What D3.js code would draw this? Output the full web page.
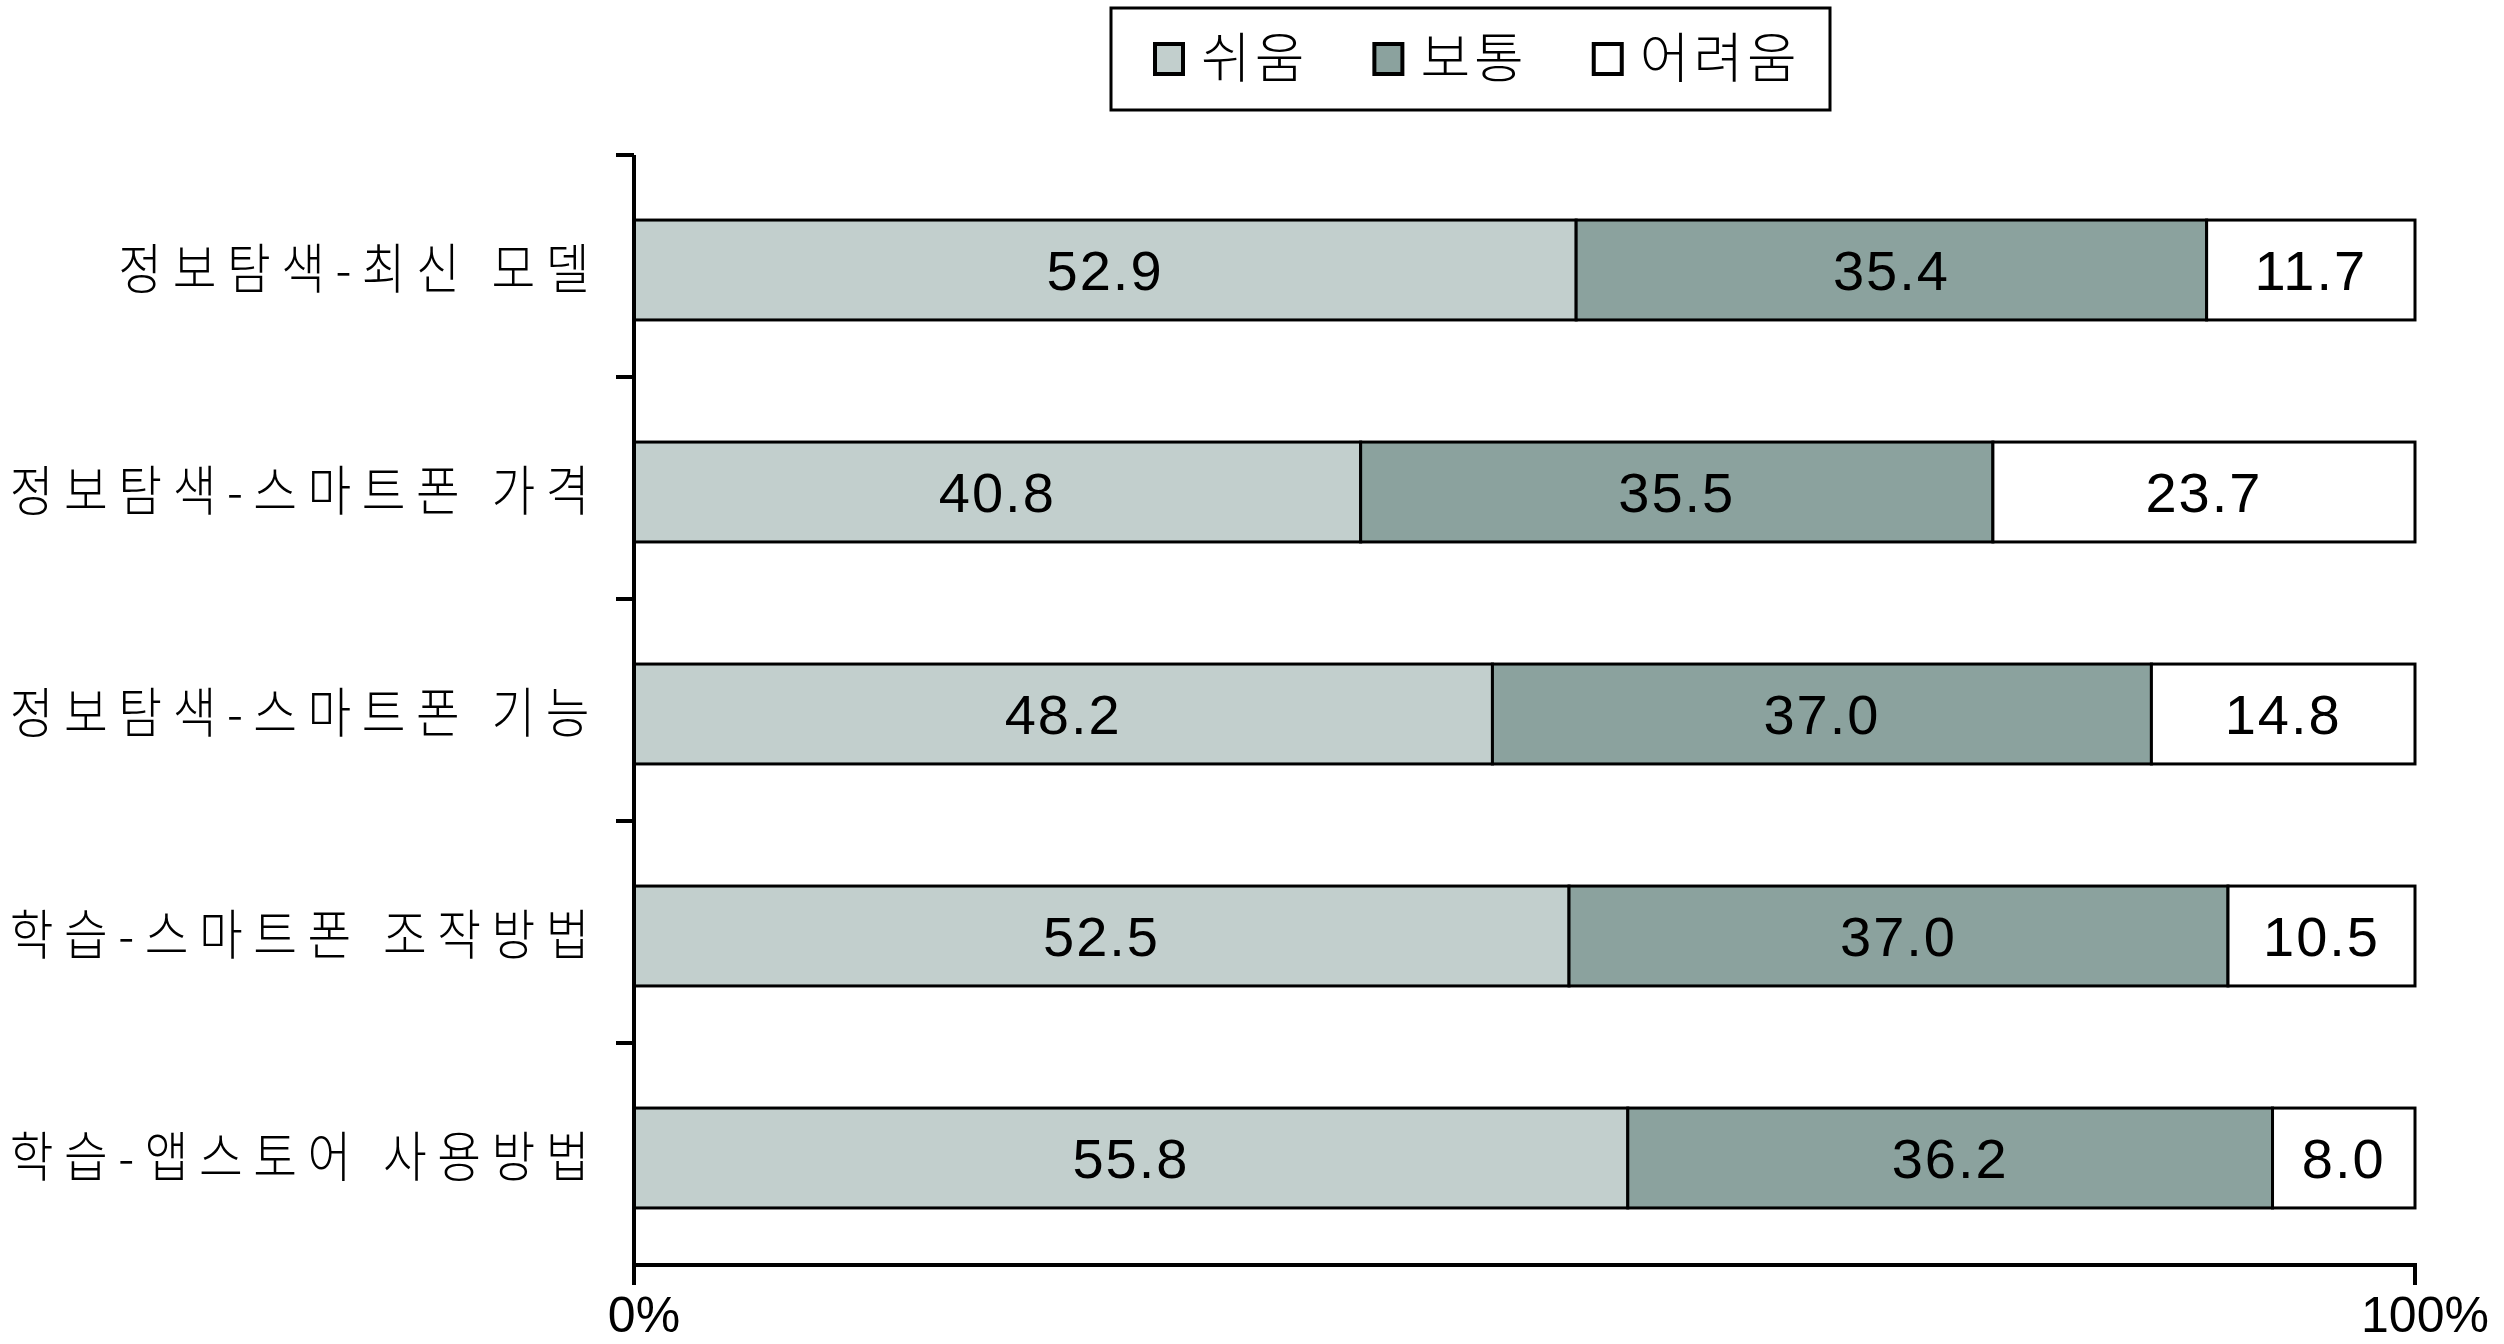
<!DOCTYPE html>
<html>
<head>
<meta charset="utf-8">
<script src="https://cdn.jsdelivr.net/npm/d3@7"></script>
<style>
  body { margin: 0; background: #fff; }
  svg { display: block; }
  .kr { font-family: "Noto Sans CJK KR", "Noto Sans", sans-serif; font-weight: 300; }
  .num { font-family: "Liberation Sans", Arial, sans-serif; }
</style>
</head>
<body>
<svg width="2504" height="1344"></svg>
<script>
const categories = [
  "정보탐색-최신 모델",
  "정보탐색-스마트폰 가격",
  "정보탐색-스마트폰 기능",
  "학습-스마트폰 조작방법",
  "학습-앱스토어 사용방법"
];
const seriesNames = ["쉬움", "보통", "어려움"];
const easy = [52.9, 40.8, 48.2, 52.5, 55.8];
const normal = [35.4, 35.5, 37.0, 37.0, 36.2];
const hard = [11.7, 23.7, 14.8, 10.5, 8.0];
const xTicks = [0, 100];
const colors = ["#c2cfcd", "#8ba29e", "#ffffff"];

const svg = d3.select("svg");

const x = d3.scaleLinear().domain([0, 100]).range([634, 2415]);
const y = d3.scaleBand().domain(categories).range([155, 1265])
  .paddingInner(0.55).paddingOuter(0.275);

const rows = categories.map((c, i) => ({ cat: c, easy: easy[i], normal: normal[i], hard: hard[i] }));
const stack = d3.stack().keys(["easy", "normal", "hard"])(rows);

const color = d3.scaleOrdinal().domain(["easy", "normal", "hard"]).range(colors);

// bars
const layer = svg.append("g")
  .selectAll("g")
  .data(stack)
  .enter().append("g")
  .attr("fill", d => color(d.key));

layer.selectAll("rect")
  .data(d => d)
  .enter().append("rect")
  .attr("x", d => x(d[0]))
  .attr("y", d => y(d.data.cat) + 4)
  .attr("width", d => x(d[1]) - x(d[0]))
  .attr("height", y.bandwidth())
  .attr("stroke", "#000")
  .attr("stroke-width", 3);

// value labels
layer.selectAll("text")
  .data(d => d)
  .enter().append("text")
  .attr("class", "num")
  .attr("x", d => (x(d[0]) + x(d[1])) / 2)
  .attr("y", d => y(d.data.cat) + 4 + y.bandwidth() / 2)
  .attr("dy", "0.36em")
  .attr("text-anchor", "middle")
  .attr("font-size", 56)
  .attr("letter-spacing", 2)
  .attr("fill", "#000")
  .text(d => (d[1] - d[0]).toFixed(1));

// axes
const axes = svg.append("g").attr("stroke", "#000").attr("stroke-width", 4);
axes.append("line")
  .attr("x1", x(0)).attr("x2", x(0))
  .attr("y1", 155).attr("y2", 1285);
axes.append("line")
  .attr("x1", x(0) - 2).attr("x2", x(100) + 2)
  .attr("y1", 1265).attr("y2", 1265);

const bounds = d3.range(categories.length).map(i => y.range()[0] + i * y.step());
axes.selectAll(".ytick")
  .data(bounds)
  .enter().append("line")
  .attr("x1", x(0) - 18).attr("x2", x(0))
  .attr("y1", d => d).attr("y2", d => d);

axes.selectAll(".xtick")
  .data(xTicks)
  .enter().append("line")
  .attr("x1", d => x(d)).attr("x2", d => x(d))
  .attr("y1", 1265).attr("y2", 1285);

svg.append("g")
  .selectAll("text")
  .data(xTicks)
  .enter().append("text")
  .attr("class", "num")
  .attr("x", d => x(d) + 10)
  .attr("y", 1332)
  .attr("text-anchor", "middle")
  .attr("font-size", 50)
  .text(d => d + "%");

// category labels (slightly condensed, like the original font)
svg.append("g")
  .selectAll("text")
  .data(categories)
  .enter().append("text")
  .attr("class", "kr")
  .attr("transform", d => `translate(600,${y(d) + 4 + y.bandwidth() / 2}) scale(0.88,1)`)
  .attr("dy", "0.36em")
  .attr("text-anchor", "end")
  .attr("font-size", 54)
  .attr("letter-spacing", 12)
  .text(d => d);

// legend
const legend = svg.append("g");
legend.append("rect")
  .attr("x", 1111).attr("y", 8)
  .attr("width", 719).attr("height", 102)
  .attr("fill", "#fff").attr("stroke", "#000").attr("stroke-width", 3);

let lx = 1155;
seriesNames.forEach((name, i) => {
  legend.append("rect")
    .attr("x", lx).attr("y", 44)
    .attr("width", 28).attr("height", 30)
    .attr("fill", colors[i]).attr("stroke", "#000").attr("stroke-width", 4);
  const t = legend.append("text")
    .attr("class", "kr")
    .attr("x", lx + 46).attr("y", 59)
    .attr("dy", "0.36em")
    .attr("font-size", 54)
    .attr("letter-spacing", 4)
    .text(name);
  lx += 46 + t.node().getComputedTextLength() + 66;
});
</script>
</body>
</html>
